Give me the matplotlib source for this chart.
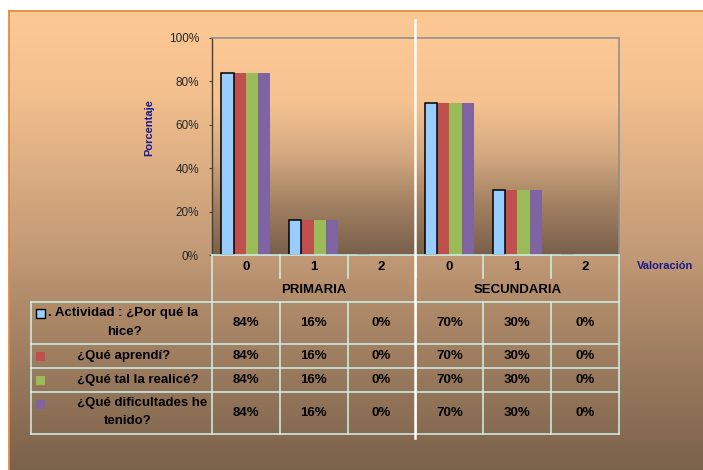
import numpy as np
import matplotlib.pyplot as plt
from matplotlib.colors import to_rgb
from matplotlib.patches import Rectangle

categorias = ['0', '1', '2', '0', '1', '2']
niveles = ['PRIMARIA', 'SECUNDARIA']
series = ['. Actividad : ¿Por qué la\nhice?', '¿Qué aprendí?',
          '¿Qué tal la realicé?', '¿Qué dificultades he\ntenido?']
por_que = [84, 16, 0, 70, 30, 0]
aprendi = [84, 16, 0, 70, 30, 0]
realice = [84, 16, 0, 70, 30, 0]
dificultades = [84, 16, 0, 70, 30, 0]
valores = [por_que, aprendi, realice, dificultades]
colores = ['#99CCFF', '#C0504D', '#9BBB59', '#8064A2']
yticks = [0, 20, 40, 60, 80, 100]

plt.rcParams['font.family'] = ['Liberation Sans', 'DejaVu Sans']
AZUL = '#1A1A8C'
LINEA = '#CDF3EC'


def gradiente(stops, n=400):
    """Build an n x 1 x 3 colour column from (pos, colour) stops."""
    pos = np.array([s[0] for s in stops])
    rgb = np.array([to_rgb(s[1]) for s in stops])
    t = np.linspace(pos[0], pos[-1], n)
    col = np.stack([np.interp(t, pos, rgb[:, k]) for k in range(3)], axis=1)
    return col[:, None, :]


W, H = 703, 470
fig = plt.figure(figsize=(W / 100, H / 100), dpi=100)

# fondo del grafico
bg = fig.add_axes([0, 0, 1, 1], zorder=0)
bg.axis('off')
fondo = gradiente([(11, '#FDCA96'), (90, '#F3C08E'), (250, '#C29A76'),
                   (300, '#B08B6A'), (470, '#79604A')])
bg.imshow(fondo, extent=[9, W + 10, 475, 11], aspect='auto', interpolation='bilinear')
bg.plot([9, W + 10], [11, 11], color='#E98A3C', lw=1.3)
bg.plot([9, 9], [11, H + 5], color='#E98A3C', lw=1.3)
bg.set_xlim(0, W)
bg.set_ylim(H, 0)

# area de trazado
x0, x1, ytop, ybot = 212, 619, 37.7, 255.3
ax = fig.add_axes([x0 / W, (H - ybot) / H, (x1 - x0) / W, (ybot - ytop) / H], zorder=1)
n = len(categorias)
plot_bg = gradiente([(0, '#78604A'), (0.25, '#A58363'), (0.45, '#D2A880'),
                     (0.7, '#F5C290'), (1.0, '#FDCA96')])
ax.imshow(plot_bg, extent=[-0.5, n - 0.5, 0, 100], aspect='auto',
          origin='lower', interpolation='bilinear', zorder=0)

x = np.arange(n)
grupo = 0.723
bw = grupo / len(series)
for i, (vals, c) in enumerate(zip(valores, colores)):
    off = -grupo / 2 + bw * (i + 0.5)
    if i == 0:
        ax.bar(x + off, vals, bw, color=c, edgecolor='black', linewidth=1.1, zorder=3)
    else:
        ax.bar(x + off, vals, bw, color=c, linewidth=0, zorder=2)

ax.set_xlim(-0.5, n - 0.5)
ax.set_ylim(0, 100)
ax.set_yticks(yticks)
ax.set_yticklabels([f'{v}%' for v in yticks], fontsize=8.5, color='#262626')
ax.set_xticks([])
ax.tick_params(axis='y', length=2.4, width=0.8, color='#404040', pad=7)
ax.spines['left'].set_color('#404040')
ax.spines['left'].set_linewidth(1.0)
ax.spines['top'].set_color('#8C8C8C')
ax.spines['right'].set_color('#8C8C8C')
ax.spines['top'].set_linewidth(1.1)
ax.spines['right'].set_linewidth(1.1)
ax.spines['bottom'].set_visible(False)

# tabla de datos y textos
ov = fig.add_axes([0, 0, 1, 1], zorder=2)
ov.set_xlim(0, W)
ov.set_ylim(H, 0)
ov.axis('off')
ov.patch.set_alpha(0)

cw = (x1 - x0) / n
bordes_x = [x0 + cw * k for k in range(n + 1)]
filas_y = [302.3, 344.3, 368.3, 391.7, 433.7]
tx = dict(fontsize=9.5, fontweight='bold', color='black')

ov.plot([x0, x1], [ybot, ybot], color=LINEA, lw=1.1)
for y in filas_y:
    ov.plot([31, x1], [y, y], color=LINEA, lw=1.1)
ov.plot([31, 31], [filas_y[0], filas_y[-1]], color=LINEA, lw=1.1)
for k, bx in enumerate(bordes_x):
    if k in (0, n):
        ov.plot([bx, bx], [ybot, filas_y[-1]], color=LINEA, lw=1.1)
    else:
        ov.plot([bx, bx], [ybot, 278.3], color=LINEA, lw=1.1)
        ov.plot([bx, bx], [filas_y[0], filas_y[-1]], color=LINEA, lw=1.1)

for k, cat in enumerate(categorias):
    cx = (bordes_x[k] + bordes_x[k + 1]) / 2
    ov.text(cx, 267, cat, ha='center', va='center', **tx)
    for r, vals in enumerate(valores):
        cy = (filas_y[r] + filas_y[r + 1]) / 2
        ov.text(cx, cy, f'{vals[k]}%', ha='center', va='center', **tx)

for g, nivel in enumerate(niveles):
    gx = (bordes_x[3 * g] + bordes_x[3 * g + 3]) / 2
    ov.text(gx, 290, nivel, ha='center', va='center', **tx)

# etiquetas de filas con clave de leyenda
for r, (nombre, c) in enumerate(zip(series, colores)):
    partes = nombre.split('\n')
    ytop_r = filas_y[r]
    key_y = 309 if r == 0 else ytop_r + 7.8
    ov.add_patch(Rectangle((35.7, key_y), 9, 9, facecolor=c,
                           edgecolor='black' if r == 0 else 'none', lw=1.0))
    xl = 48 if r == 0 else 77
    if len(partes) == 2:
        ov.text(xl, ytop_r + 11, partes[0], ha='left', va='center', **tx)
        ov.text(xl + (76 if r == 0 else 51), ytop_r + 29.4, partes[1],
                ha='center', va='center', **tx)
    else:
        cy = (filas_y[r] + filas_y[r + 1]) / 2
        ov.text(xl, cy, partes[0], ha='left', va='center', **tx)

# separador blanco
ov.plot([415.3, 415.3], [20, 438], color='white', lw=1.8)

ov.text(149, 128, 'Porcentaje', rotation=90, ha='center', va='center',
        fontsize=8, fontweight='bold', color=AZUL)
ov.text(665, 266, 'Valoración', ha='center', va='center',
        fontsize=8, fontweight='bold', color=AZUL)

fig.savefig('out.png', dpi=100)
